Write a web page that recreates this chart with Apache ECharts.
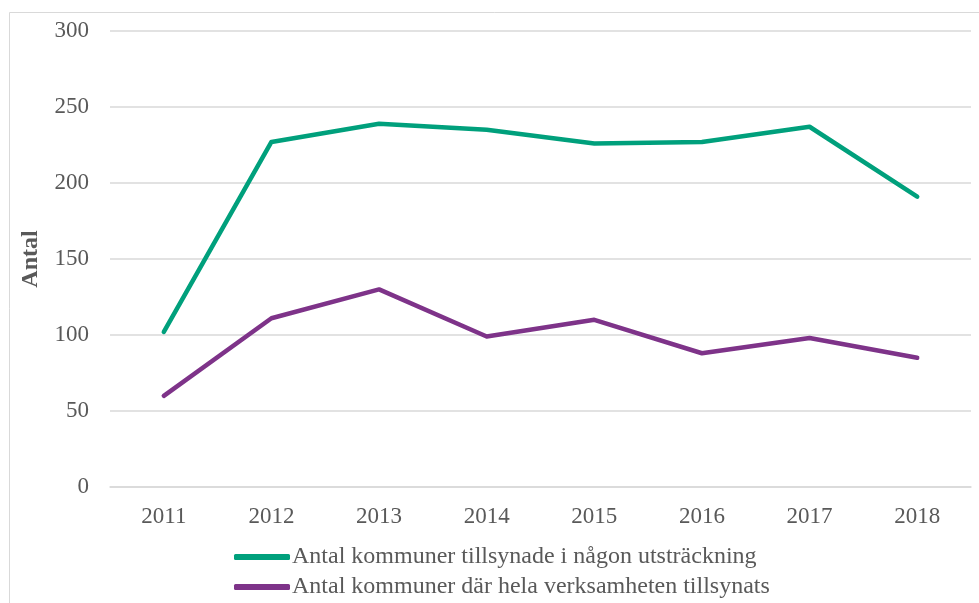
<!DOCTYPE html>
<html>
<head>
<meta charset="utf-8">
<script src="https://cdn.jsdelivr.net/npm/echarts@6/dist/echarts.min.js"></script>
<style>
  html, body { margin: 0; padding: 0; background: #fff; }
  #main { width: 979px; height: 603px; }
</style>
</head>
<body>
<div id="main"></div>
<script>
var years = ['2011', '2012', '2013', '2014', '2015', '2016', '2017', '2018'];
var tillsynadeNagon = [102, 227, 239, 235, 226, 227, 237, 191];
var helaVerksamheten = [60, 111, 130, 99, 110, 88, 98, 85];
var seriesNames = [
    'Antal kommuner tillsynade i någon utsträckning',
    'Antal kommuner där hela verksamheten tillsynats'
];

var chart = echarts.init(document.getElementById('main'));
var textFont = 'Liberation Serif, Times New Roman, serif';

function legendAt(top, name) {
    return {
        orient: 'horizontal',
        left: 229,
        top: top,
        itemWidth: 56,
        itemHeight: 6,
        icon: 'roundRect',
        textStyle: { fontFamily: textFont, fontSize: 24, color: '#595959', padding: [0, 0, 0, -3] },
        data: [name]
    };
}

var options = {
    animation: false,
    backgroundColor: '#fff',
    color: ['#00a07c', '#7e3389'],
    graphic: [{
        type: 'rect',
        shape: { x: 9.5, y: 12.5, width: 1000, height: 700 },
        style: { fill: 'none', stroke: '#d9d9d9', lineWidth: 1 }
    }],
    grid: { left: 110, right: 8, top: 31, bottom: 116 },
    legend: [legendAt(540, seriesNames[0]), legendAt(570, seriesNames[1])],
    xAxis: {
        type: 'category',
        data: years,
        boundaryGap: true,
        axisLine: { lineStyle: { color: '#d9d9d9', width: 1.5 } },
        axisTick: { show: false },
        axisLabel: { fontFamily: textFont, fontSize: 23, color: '#595959', margin: 18 }
    },
    yAxis: {
        type: 'value',
        min: 0,
        max: 300,
        interval: 50,
        name: 'Antal',
        nameLocation: 'middle',
        nameGap: 67,
        nameTextStyle: { fontFamily: textFont, fontSize: 24, fontWeight: 'bold', color: '#595959' },
        axisLine: { show: false },
        axisTick: { show: false },
        splitLine: { lineStyle: { color: '#d9d9d9', width: 1.5 } },
        axisLabel: { fontFamily: textFont, fontSize: 23, color: '#595959', margin: 21 }
    },
    series: [{
        name: seriesNames[0],
        type: 'line',
        data: tillsynadeNagon,
        symbol: 'none',
        lineStyle: { width: 4.5, cap: 'round', join: 'round' }
    }, {
        name: seriesNames[1],
        type: 'line',
        data: helaVerksamheten,
        symbol: 'none',
        lineStyle: { width: 4.5, cap: 'round', join: 'round' }
    }]
};

chart.setOption(options);
window.onresize = function () {
    chart.resize();
};
</script>
</body>
</html>
